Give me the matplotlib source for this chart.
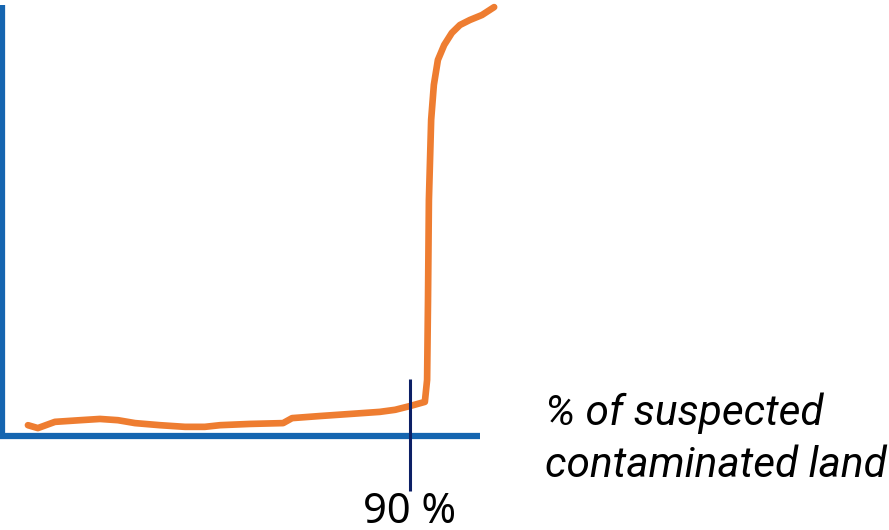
import numpy as np
import matplotlib.pyplot as plt

# share of suspected contaminated land (%) vs. cumulative effort (arbitrary units)
pct = [5.1, 7.3, 11.1, 16.7, 21.1, 25.1, 28.9, 34.4, 40.0, 44.4, 47.8, 54.4,
       61.8, 63.8, 70.0, 76.7, 83.3, 86.7, 90.0, 93.3, 93.8, 94.0, 94.2,
       94.7, 95.3, 96.2, 97.6, 99.3, 101.1, 103.3, 106.0, 108.7]
level = [2.6, 1.9, 3.4, 3.8, 4.1, 3.8, 3.1, 2.6, 2.2, 2.2, 2.6, 2.9,
         3.1, 4.3, 4.8, 5.3, 5.8, 6.3, 7.2, 8.2, 13.5, 32.7, 56.7,
         76.0, 84.4, 90.4, 94.0, 96.9, 98.8, 100.0, 101.2, 103.1]
marker_pct = 90
marker_label = "90 %"
x_label = ["% of suspected", "contaminated land"]

blue = "#1565b0"
orange = "#ee7d31"
navy = "#0c1f66"

fig = plt.figure(figsize=(8.89, 5.30), dpi=100)
ax = fig.add_axes([0, 0, 1, 1])
ax.set_xlim(-5 / 4.5, 884 / 4.5)
ax.set_ylim(-94 / 4.16, 436 / 4.16)
ax.axis("off")

# axes drawn as plain lines
ax.plot([-0.7, -0.7], [-0.7, 103.6], color=blue, lw=4.5, solid_capstyle="butt")
ax.plot([-1.4, 105.6], [0, 0], color=blue, lw=4.5, solid_capstyle="butt")

ax.plot(pct, level, color=orange, lw=4.8, solid_capstyle="round",
        solid_joinstyle="round")

ax.plot([marker_pct, marker_pct], [13.7, -13.2], color=navy, lw=2.2,
        solid_capstyle="butt")
ax.text(marker_pct, -20.9, marker_label, ha="center", va="baseline",
        fontsize=30, family="Noto Sans", color="black")

for i, line in enumerate(x_label):
    ax.text(120, 2.6 - i * 12.5, line, ha="left", va="baseline", fontsize=30.5,
            family="Roboto", style="italic", color="black")

fig.savefig("out.png", dpi=100)
